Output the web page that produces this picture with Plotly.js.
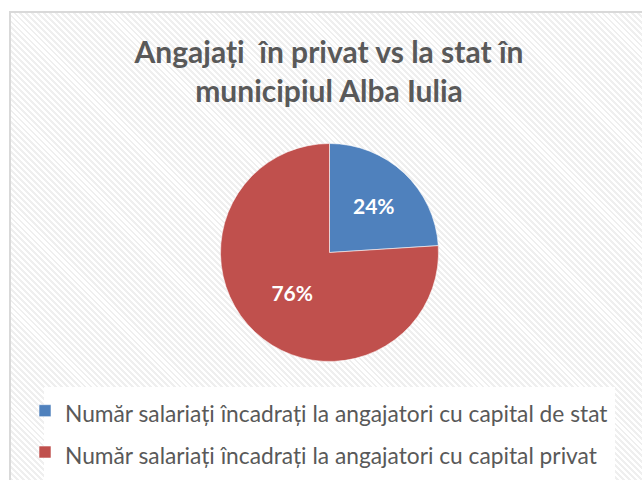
<!DOCTYPE html>
<html>
<head>
<meta charset="utf-8">
<script src="https://cdn.plot.ly/plotly-3.0.1.min.js"></script>
<style>
  html, body { margin: 0; padding: 0; background: #ffffff; }
  #frame {
    position: absolute; left: 9px; top: 11px; width: 660px; height: 500px;
    border-left: 2px solid #d9d9d9; border-top: 2px solid #d9d9d9;
    background: repeating-linear-gradient(45deg, #ffffff 0px, #ffffff 2.2px, #efefef 2.2px, #efefef 4.2px);
  }
  #chart { position: absolute; left: 0; top: 0; width: 642px; height: 480px; }
</style>
</head>
<body>
<div id="frame"></div>
<div id="chart"></div>
<script>
// Data
var categories = [
  'Număr salariați încadrați la angajatori cu capital de stat',
  'Număr salariați încadrați la angajatori cu capital privat'
];
var values = [24, 76];
var sliceColors = ['#4f81bd', '#c0504d'];
var chartTitle = 'Angajați  în privat vs la stat în<br>municipiul Alba Iulia';

var W = 642, H = 480;
function px(x) { return x / W; }
function py(y) { return 1 - y / H; }

var legendLabels = categories.map(function (c) {
  return '<span style="font-size:22.75px">' + c + '</span>';
});

var trace = {
  type: 'pie',
  labels: legendLabels,
  values: values,
  marker: { colors: sliceColors, line: { width: 0.8, color: 'rgba(255,255,255,0.7)' } },
  sort: false,
  direction: 'clockwise',
  rotation: 0,
  textinfo: 'percent',
  texttemplate: '%{percent:.0%}',
  textposition: 'inside',
  insidetextorientation: 'horizontal',
  textfont: { family: 'Lato', size: 21, color: '#ffffff', weight: 'bold' },
  domain: { x: [px(220.5), px(438.5)], y: [py(362), py(143)] },
  hoverinfo: 'none'
};

var layout = {
  width: W, height: H,
  margin: { l: 0, r: 0, t: 0, b: 0 },
  paper_bgcolor: 'rgba(0,0,0,0)',
  plot_bgcolor: 'rgba(0,0,0,0)',
  title: {
    text: chartTitle,
    font: { family: 'Lato', size: 30, color: '#595959', weight: 'bold' },
    x: px(329), xanchor: 'center', xref: 'paper',
    y: py(63), yanchor: 'top', yref: 'paper'
  },
  showlegend: true,
  legend: {
    x: px(25), xanchor: 'left',
    y: py(385), yanchor: 'top',
    bgcolor: 'rgba(0,0,0,0)',
    font: { family: 'Lato', size: 29.5, color: '#595959' },
    traceorder: 'normal'
  },
  shapes: [{
    type: 'rect', xref: 'paper', yref: 'paper', layer: 'below',
    x0: px(44), x1: px(615), y0: py(490), y1: py(387),
    fillcolor: '#ffffff', line: { width: 0 }
  }]
};

Plotly.newPlot('chart', [trace], layout, { displayModeBar: false, staticPlot: true });
</script>
</body>
</html>
